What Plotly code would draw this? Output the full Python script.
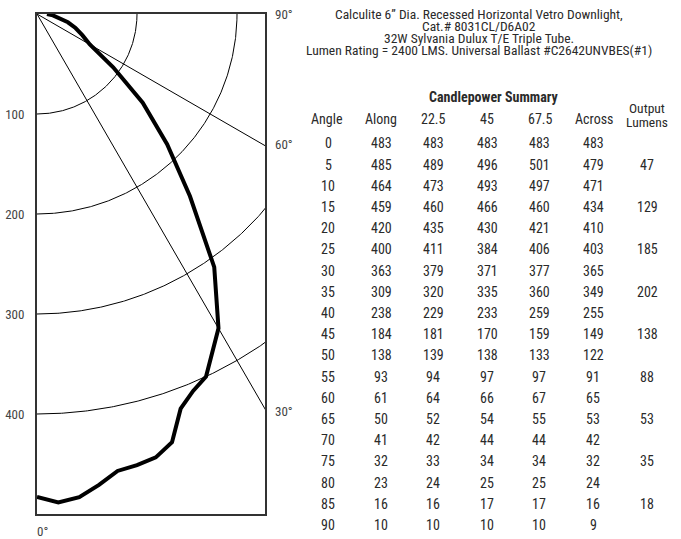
import numpy as np
import plotly.graph_objects as go

# ---------------- data ----------------
angles = [0, 5, 10, 15, 20, 25, 30, 35, 40, 45, 50, 55, 60, 65, 70, 75, 80, 85, 90]
along = [483, 485, 464, 459, 420, 400, 363, 309, 238, 184, 138, 93, 61, 50, 41, 32, 23, 16, 10]
c22_5 = [483, 489, 473, 460, 435, 411, 379, 320, 229, 181, 139, 94, 64, 52, 42, 33, 24, 16, 10]
c45 = [483, 496, 493, 466, 430, 384, 371, 335, 233, 170, 138, 97, 66, 54, 44, 34, 25, 17, 10]
c67_5 = [483, 501, 497, 460, 421, 406, 377, 360, 259, 159, 133, 97, 67, 55, 44, 34, 25, 17, 10]
across = [483, 479, 471, 434, 410, 403, 365, 349, 255, 149, 122, 91, 65, 53, 42, 32, 24, 16, 9]
lumens = ["", "47", "", "129", "", "185", "", "202", "", "138", "", "88", "", "53", "", "35", "", "18", ""]

# polar curve (along plane) as drawn, including half-step points
curve_angle = [0, 2.5, 5, 7.5, 10, 12.5, 15, 17.5, 20, 22.5, 25, 30, 35, 40, 45, 50, 55, 60, 65, 70, 75, 80, 85, 90]
curve_cd = [483, 489, 485, 475, 464, 462, 459, 449, 420, 408, 400, 363, 309, 238, 184, 138, 93, 61, 50, 41, 32, 23, 16, 10]

grid_radii = [100, 200, 300, 400]
ray_angles = [30, 60]

title_lines = [
    "Calculite 6\u201d Dia. Recessed Horizontal Vetro Downlight,",
    "Cat.# 8031CL/D6A02",
    "32W Sylvania Dulux T/E Triple Tube.",
    "Lumen Rating = 2400 LMS. Universal Ballast #C2642UNVBES(#1)",
]
table_title = "Candlepower Summary"
col_headers = ["Angle", "Along", "22.5", "45", "67.5", "Across", "Output<br>Lumens"]

# ---------------- layout constants ----------------
W, H = 681, 539
L, T = 37, 14
PW, PH = 228, 500
R = W - L - PW
B = H - T - PH

FONT = "Liberation Sans Narrow, Roboto Condensed, DejaVu Sans Condensed, Arial Narrow, sans-serif"
TXT = "#2a2a2a"


def fx(p):
    return (p - L) / PW


def fy(p):
    return (T + PH - p) / PH


fig = go.Figure()

# grid arcs
th = np.radians(np.linspace(0, 90, 361))
for r in grid_radii:
    fig.add_trace(go.Scatter(x=r * np.sin(th), y=r * np.cos(th), mode="lines",
                             line=dict(color="black", width=1), hoverinfo="skip", showlegend=False))

# rays
for a in ray_angles:
    ar = np.radians(a)
    fig.add_trace(go.Scatter(x=[0, 800 * np.sin(ar)], y=[0, 800 * np.cos(ar)], mode="lines",
                             line=dict(color="black", width=1), hoverinfo="skip", showlegend=False))

# candlepower curve
ca = np.radians(curve_angle)
cd = np.array(curve_cd)
fig.add_trace(go.Scatter(x=cd * np.sin(ca), y=cd * np.cos(ca), mode="lines",
                         line=dict(color="black", width=4), showlegend=False))

ann = []
# angle labels
for text, xp, yp, xa in [("90\u00b0", 273, 14, "left"), ("60\u00b0", 273, 144, "left"),
                         ("30\u00b0", 273, 411, "left"), ("0\u00b0", 35, 531, "left")]:
    ann.append(dict(text=text, x=fx(xp), y=fy(yp), xref="paper", yref="paper",
                    xanchor=xa, yanchor="middle", showarrow=False,
                    font=dict(family=FONT, size=13, color="#444")))

# title lines
for i, (line, yp) in enumerate(zip(title_lines, [13.5, 26, 38, 50])):
    ann.append(dict(text=line, x=fx(479), y=fy(yp), xref="paper", yref="paper",
                    xanchor="center", yanchor="middle", showarrow=False,
                    font=dict(family=FONT, size=13.5, color=TXT)))

ann.append(dict(text="<b>" + table_title + "</b>", x=fx(494), y=fy(97), xref="paper", yref="paper",
                xanchor="center", yanchor="middle", showarrow=False,
                font=dict(family=FONT, size=14, color=TXT)))

col_x = [328, 381, 433, 487, 539, 593, 647]
head_x = [327, 381, 433.5, 486.5, 540, 594, 647]
for hx, h in zip(head_x, col_headers):
    if "<br>" in h:
        top, bot = h.split("<br>")
        ann.append(dict(text=top, x=fx(hx), y=fy(108), xref="paper", yref="paper", xanchor="center",
                        yanchor="middle", showarrow=False, font=dict(family=FONT, size=13.5, color=TXT)))
        ann.append(dict(text=bot, x=fx(hx), y=fy(122.5), xref="paper", yref="paper", xanchor="center",
                        yanchor="middle", showarrow=False, font=dict(family=FONT, size=13.5, color=TXT)))
    else:
        ann.append(dict(text=h, x=fx(hx), y=fy(119), xref="paper", yref="paper", xanchor="center",
                        yanchor="middle", showarrow=False, font=dict(family=FONT, size=14, color=TXT)))

row0, dy = 143.3, 21.2
cols = [[str(a) for a in angles], [str(v) for v in along], [str(v) for v in c22_5], [str(v) for v in c45],
        [str(v) for v in c67_5], [str(v) for v in across], lumens]
for ci, col in enumerate(cols):
    for ri, val in enumerate(col):
        if val == "":
            continue
        ann.append(dict(text=val, x=fx(col_x[ci]), y=fy(row0 + ri * dy), xref="paper", yref="paper",
                        xanchor="center", yanchor="middle", showarrow=False,
                        font=dict(family=FONT, size=14, color=TXT)))

fig.update_layout(
    width=W, height=H,
    margin=dict(l=L, r=R, t=T, b=B, pad=0, autoexpand=False),
    paper_bgcolor="white", plot_bgcolor="white",
    annotations=ann,
    xaxis=dict(range=[0, PW], showgrid=False, zeroline=False, showticklabels=False, ticks="",
               automargin=False,
               showline=True, mirror=True, linecolor="#333", linewidth=2, fixedrange=True),
    yaxis=dict(range=[PH, 0], showgrid=False, zeroline=False, tickvals=grid_radii,
               automargin=False,
               ticks="outside", ticklen=8, tickcolor="rgba(0,0,0,0)",
               tickfont=dict(family=FONT, size=13, color="#444"),
               showline=True, mirror=True, linecolor="#333", linewidth=2, fixedrange=True),
)

fig.write_html("out.html", config={"displayModeBar": False},
               post_script="document.body.style.margin='0';document.body.style.padding='0';")
